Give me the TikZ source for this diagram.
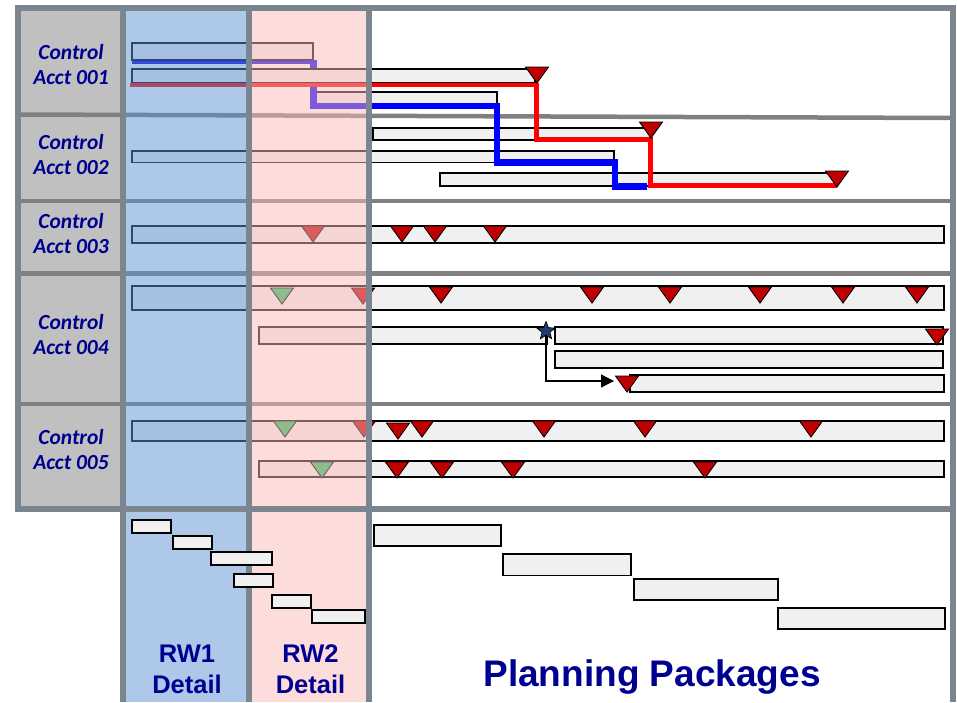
\documentclass[tikz,border=0pt]{standalone}
\usepackage{fontspec}
\newfontfamily\acctfont{Carlito}
\newfontfamily\rwfont{Liberation Sans}
\usetikzlibrary{shapes.geometric,arrows.meta}

\definecolor{framegray}{RGB}{123,133,144}
\definecolor{sepgray}{RGB}{128,128,128}
\definecolor{hdrgray}{RGB}{192,192,192}
\definecolor{barfill}{RGB}{240,240,240}
\definecolor{msred}{RGB}{192,0,0}
\definecolor{msgreen}{RGB}{31,195,97}
\definecolor{rwblue}{RGB}{93,145,213}
\definecolor{rwpink}{RGB}{251,185,185}
\definecolor{navy}{RGB}{0,0,144}
\definecolor{starblue}{RGB}{30,60,110}

\tikzset{
  wbar/.style={draw=black, fill=barfill, line width=1.3pt},
  ppbar/.style={wbar, line width=1.6pt},
  ms/.style={draw=black, fill=msred, line width=0.9pt, line join=miter},
  gms/.style={ms, fill=msgreen},
  gridline/.style={draw=sepgray, line width=4.5pt},
  frameline/.style={draw=framegray, line width=6pt},
  acct/.style={font=\acctfont\bfseries\itshape\fontsize{21.5}{25}\selectfont, text=navy, align=center, inner sep=0pt},
  rwlabel/.style={font=\rwfont\bfseries\fontsize{25.5}{31}\selectfont, text=navy, align=center, inner sep=0pt},
}

\begin{document}
\begin{tikzpicture}[x=1pt, y=-1pt]
	\useasboundingbox (0,0) rectangle (957,702);
	\clip (0,0) rectangle (957,702);
	% header column and row lines
	\fill[hdrgray] (17.5,7.5) rectangle (123,508.5);
	\draw[gridline] (17.5,114.5) -- (952.5,118);
	\draw[gridline] (17.5,201) -- (952.5,201);
	\draw[gridline] (17.5,273.5) -- (952.5,273.5);
	\draw[gridline] (17.5,404) -- (952.5,404);

	% control account bars
	\draw[wbar] (132,43) rectangle (313,60);
	\draw[wbar] (312,92) rectangle (497,105);
	\draw[wbar] (373,128) rectangle (650,140);
	\draw[wbar] (132,151) rectangle (614,162.5);
	\draw[wbar] (440,173) rectangle (837,186);
	\draw[wbar] (132,226) rectangle (944,243);
	\draw[wbar] (132,286) rectangle (944,310);
	\draw[wbar] (259,327) rectangle (547,344);
	\draw[wbar] (555,327) rectangle (943,344);
	\draw[wbar] (555,351) rectangle (943,368);
	\draw[wbar] (630,375) rectangle (944,392);
	\draw[wbar] (132,421) rectangle (944,441);
	\draw[wbar] (259,461) rectangle (944,477);

	% paths
	\draw[blue, line width=3pt] (132,62) -- (317,62);
	\draw[blue, line width=6.5pt] (313.5,60) -- (313.5,106) -- (497,106) -- (497,162.7) -- (615,162.7) -- (615,186.3) -- (647,186.3);
	\draw[wbar] (132,69) rectangle (535,83);
	\draw[red, line width=4.5pt] (130,85) -- (536.5,85) -- (536.5,139.5) -- (650.5,139.5) -- (650.5,185.5) -- (837,185.5);

	% milestones
	\foreach \mx/\my in {537/67, 651/122, 837/171,
		313/226, 402/226, 435/226, 495/226,
		363/288, 441/287, 592/287, 670/287, 760/287, 843/287, 917/287,
		937/329, 627/376,
		364/421, 398/423, 422/421, 544/421, 645/421, 811/421,
		397/462, 442/462, 513/462, 705/462}
		\draw[ms] (\mx-11.5,\my) -- (\mx+11.5,\my) -- (\mx,\my+16) -- cycle;
	\foreach \mx/\my in {282/288, 285/421, 322/462}
		\draw[gms] (\mx-11.5,\my) -- (\mx+11.5,\my) -- (\mx,\my+16) -- cycle;

	\node[star, star points=5, star point ratio=2.3, draw=black, fill=starblue, minimum size=19pt, inner sep=0pt, line width=0.7pt] (trig) at (546,331) {};
	\coordinate (tgt) at (614,381);
	\draw[line width=1.3pt, -{Triangle[length=13pt,width=13pt]}] (trig.south) |- (tgt);

	% rolling wave columns
	\fill[rwblue, opacity=0.5] (123,7.5) rectangle (249,702);
	\fill[rwpink, opacity=0.5] (249,7.5) rectangle (369,702);

	% frames
	\draw[frameline] (17.5,508.5) -- (17.5,7.5) -- (952.5,7.5) -- (952.5,702);
	\draw[frameline] (14.5,508.5) -- (955.5,508.5);
	\draw[frameline] (123,7.5) -- (123,702);
	\draw[frameline] (249,7.5) -- (249,702);
	\draw[frameline] (369,7.5) -- (369,702);

	% detail and planning packages
	\draw[ppbar] (132,520) rectangle (171,533);
	\draw[ppbar] (173,536) rectangle (212,549);
	\draw[ppbar] (211,552) rectangle (272,565);
	\draw[ppbar] (234,574) rectangle (273,587);
	\draw[ppbar] (272,595) rectangle (311,608);
	\draw[ppbar] (312,610) rectangle (365,623);
	\draw[ppbar] (374,525) rectangle (501,546);
	\draw[ppbar] (503,554) rectangle (631,575.5);
	\draw[ppbar] (634,579) rectangle (778,600);
	\draw[ppbar] (778,608) rectangle (945,629);

	% labels
	\node[acct] (acct1) at (71,64.5) {Control\\Acct 001};
	\node[acct] (acct2) at (71,154.5) {Control\\Acct 002};
	\node[acct] (acct3) at (71,233.5) {Control\\Acct 003};
	\node[acct] (acct4) at (71,335) {Control\\Acct 004};
	\node[acct] (acct5) at (71,450) {Control\\Acct 005};
	\node[rwlabel] (rw1) at (187,669) {RW1\\Detail};
	\node[rwlabel] (rw2) at (310.5,669.5) {RW2\\Detail};
	\node[font=\rwfont\bfseries\fontsize{37}{41}\selectfont, text=navy, anchor=base, inner sep=0pt] (pp) at (652,686) {Planning Packages};
\end{tikzpicture}
\end{document}
